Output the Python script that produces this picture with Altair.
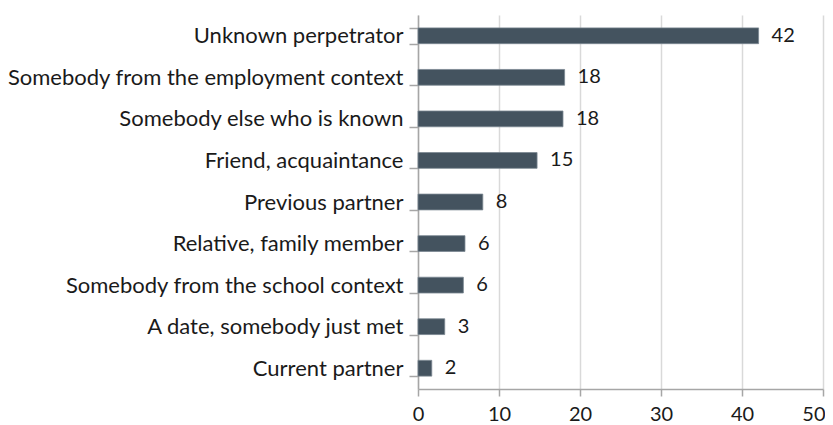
import altair as alt
import pandas as pd

categories = [
    "Unknown perpetrator",
    "Somebody from the employment context",
    "Somebody else who is known",
    "Friend, acquaintance",
    "Previous partner",
    "Relative, family member",
    "Somebody from the school context",
    "A date, somebody just met",
    "Current partner",
]
values = [42.05, 18.1, 17.9, 14.7, 8.0, 5.8, 5.6, 3.3, 1.7]
labels = ["42", "18", "18", "15", "8", "6", "6", "3", "2"]
x_ticks = [0, 10, 20, 30, 40, 50]

df = pd.DataFrame({"cat": categories, "val": values, "lab": labels})

FONT = "Lato"
FS_CAT = 22
FS_NUM = 20

y = alt.Y("cat:N", sort=None, title=None,
          scale=alt.Scale(paddingInner=0.62, paddingOuter=0.31),
          axis=alt.Axis(labelFont=FONT, labelFontSize=FS_CAT, labelColor="#1a1a1a",
                        labelPadding=6, tickSize=9, tickColor="#a6a6a6", tickWidth=1.5,
                        domainColor="#a6a6a6", domainWidth=1.5, tickBand="extent", grid=False,
                        labelLimit=500))
x = alt.X("val:Q", title=None,
          scale=alt.Scale(domain=[0, 50], nice=False),
          axis=alt.Axis(values=x_ticks, labelFont=FONT, labelFontSize=FS_NUM,
                        labelColor="#1a1a1a", tickSize=7, tickColor="#a6a6a6", tickWidth=1.5,
                        domainColor="#a6a6a6", domainWidth=1.5, gridColor="#d9d9d9", gridWidth=1.5,
                        labelPadding=8, labelFlush=False,
                        labelAlign={"expr": "datum.value == 50 ? 'right' : 'center'"},
                        labelOffset={"expr": "datum.value == 50 ? 2 : 0"}))

bars = alt.Chart(df).mark_bar(color="#44535f", stroke="#7a8691", strokeWidth=0.8).encode(x=x, y=y)
text = alt.Chart(df).mark_text(align="left", baseline="middle", dx=13, font=FONT,
                                fontSize=FS_NUM, color="#1a1a1a").encode(
    x="val:Q", y=alt.Y("cat:N", sort=None), text="lab:N")

chart = (bars + text).properties(
    width=405, height=374,
    autosize=alt.AutoSizeParams(type="none"),
    padding={"left": 410, "top": 7, "right": 2, "bottom": 36},
).configure_view(stroke=None)

chart.save("out.html", embed_options={"renderer": "svg", "actions": False})
